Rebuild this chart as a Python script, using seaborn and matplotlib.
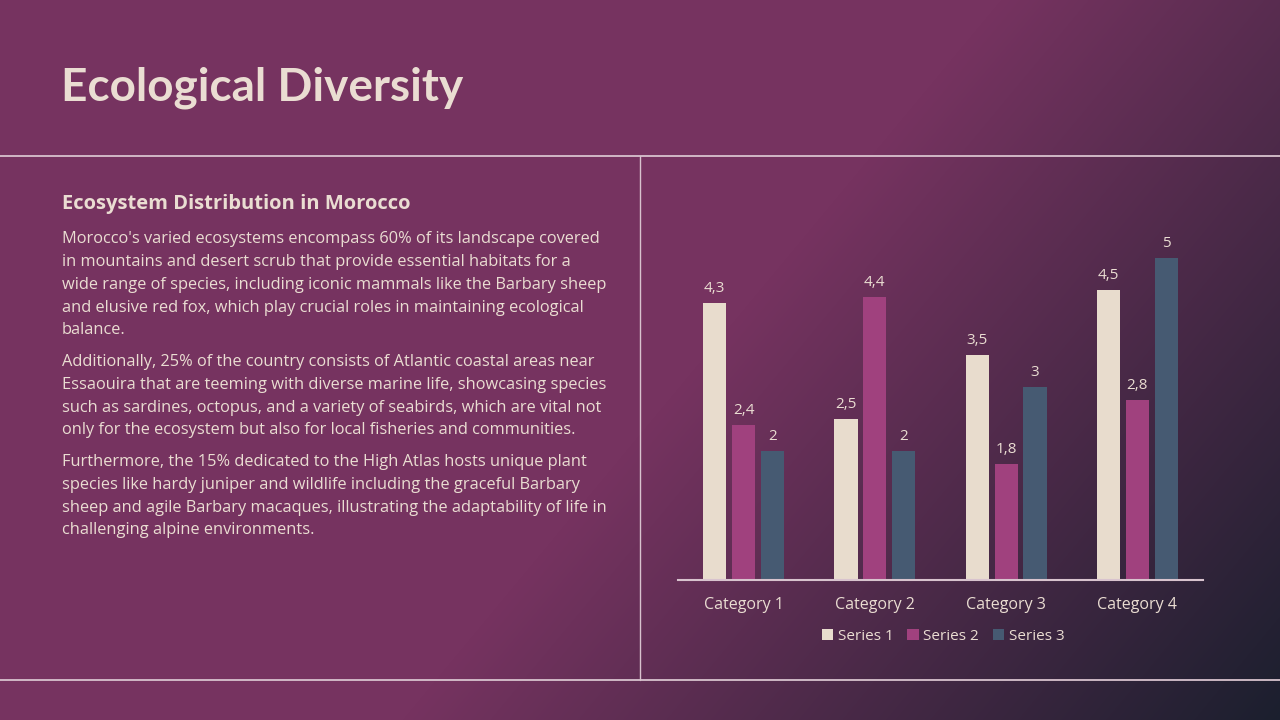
import numpy as np
import pandas as pd
import matplotlib
matplotlib.use("Agg")
import matplotlib.pyplot as plt
import seaborn as sns
from matplotlib.patches import Patch

# ---- data ----
categories = ["Category 1", "Category 2", "Category 3", "Category 4"]
series_names = ["Series 1", "Series 2", "Series 3"]
series1 = [4.3, 2.5, 3.5, 4.5]
series2 = [2.4, 4.4, 1.8, 2.8]
series3 = [2.0, 2.0, 3.0, 5.0]
title = "Ecological Diversity"
subtitle = "Ecosystem Distribution in Morocco"
paragraphs = [
    ["Morocco's varied ecosystems encompass 60% of its landscape covered",
     "in mountains and desert scrub that provide essential habitats for a",
     "wide range of species, including iconic mammals like the Barbary sheep",
     "and elusive red fox, which play crucial roles in maintaining ecological",
     "balance."],
    ["Additionally, 25% of the country consists of Atlantic coastal areas near",
     "Essaouira that are teeming with diverse marine life, showcasing species",
     "such as sardines, octopus, and a variety of seabirds, which are vital not",
     "only for the ecosystem but also for local fisheries and communities."],
    ["Furthermore, the 15% dedicated to the High Atlas hosts unique plant",
     "species like hardy juniper and wildlife including the graceful Barbary",
     "sheep and agile Barbary macaques, illustrating the adaptability of life in",
     "challenging alpine environments."],
]

df = pd.DataFrame({
    "category": categories * 3,
    "series": [s for s in series_names for _ in categories],
    "value": series1 + series2 + series3,
})

sns.set_theme(style="white")
FONT = ["Open Sans", "DejaVu Sans"]
TFONT = ["Lato", "Open Sans", "DejaVu Sans"]
plt.rcParams["font.family"] = FONT

CREAM = "#EADDD2"
LINE = "#D8C3CE"
palette = ["#E8DCCD", "#A0417E", "#465A72"]

W, H = 1280, 720
fig = plt.figure(figsize=(12.8, 7.2), dpi=100)

# ---- background gradient ----
bg = fig.add_axes([0, 0, 1, 1], zorder=-10)
yy, xx = np.mgrid[0:H, 0:W]
p = 0.77 * xx + 0.64 * yy
t = np.clip((p - 770) / (1447 - 770), 0, 1)
c0 = np.array([0x76, 0x33, 0x60]) / 255
c1 = np.array([0x1B, 0x1F, 0x2E]) / 255
img = c0[None, None, :] * (1 - t[..., None]) + c1[None, None, :] * t[..., None]
bg.imshow(img, extent=[0, W, H, 0], aspect="auto")
bg.set_xlim(0, W)
bg.set_ylim(H, 0)
bg.axis("off")

# divider lines (pixel coords on background axes)
bg.plot([0, W], [156, 156], color=LINE, lw=1.3)
bg.plot([0, W], [680, 680], color=LINE, lw=1.3)
bg.plot([640, 640], [156, 680], color=LINE, lw=1.0)

# ---- texts ----
bg.text(61, 88, title, color=CREAM, fontsize=33, fontweight="bold",
        va="center", ha="left", family=TFONT)
bg.text(62, 204, subtitle, color=CREAM, fontsize=14.5, fontweight="bold",
        va="center", ha="left", family=FONT)
y = 239
for para in paragraphs:
    for line in para:
        bg.text(62, y, line, color=CREAM, fontsize=11.8, va="center",
                ha="left", family=FONT)
        y += 22.85
    y += 8.6

# ---- chart ----
base_y = 580
px_per_unit = 64.4
top_y = 220
ax = fig.add_axes([678 / W, 1 - base_y / H, (1203 - 678) / W, (base_y - top_y) / H])
sns.barplot(data=df, x="category", y="value", hue="series", palette=palette,
            width=0.66, gap=0.2, ax=ax, saturation=1, legend=False,
            edgecolor="none", linewidth=0)
ax.set_xlim(-0.5, 3.5)
ax.set_ylim(0, (base_y - top_y) / px_per_unit)
ax.set_facecolor("none")
for s in ["top", "right", "left"]:
    ax.spines[s].set_visible(False)
ax.spines["bottom"].set_color(LINE)
ax.spines["bottom"].set_linewidth(1.5)
ax.set_yticks([])
ax.set_xlabel("")
ax.set_ylabel("")
ax.tick_params(axis="x", length=0, pad=12, colors=CREAM, labelsize=11.5)

for cont in ax.containers:
    labels = [f"{v:g}".replace(".", ",") for v in cont.datavalues]
    ax.bar_label(cont, labels=labels, padding=5, color=CREAM, fontsize=11,
                 family=FONT)

handles = [Patch(facecolor=c, edgecolor="none") for c in palette]
fig.legend(handles, series_names, loc="center", bbox_to_anchor=(943 / W, 1 - 636 / H),
           ncol=3, frameon=False, handlelength=0.75, handleheight=0.75,
           handletextpad=0.3, columnspacing=0.9,
           prop={"family": FONT, "size": 11}, labelcolor=CREAM)

fig.savefig("out.png", dpi=100)
